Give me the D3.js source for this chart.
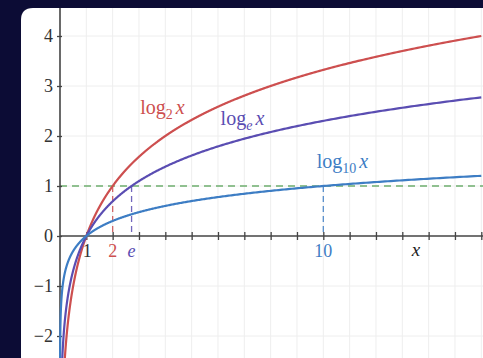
<!DOCTYPE html>
<html>
<head>
<meta charset="utf-8">
<script src="https://cdn.jsdelivr.net/npm/d3@7"></script>
<style>
  html, body { margin: 0; padding: 0; background: #0c0c35; }
  svg { display: block; }
</style>
</head>
<body>
<svg id="chart" width="483" height="358"></svg>
<script>
// Logarithm curves for three bases
const bases = [2, Math.E, 10];
const baseNames = ["2", "e", "10"];
const colors = ["#cd4f4f", "#5a4db2", "#3d7dc4"];
const yTicks = [-2, -1, 0, 1, 2, 3, 4];
const xGridTicks = d3.range(0, 17);
const xLabelValues = [1, 2, Math.E, 10];
const xLabelTexts = ["1", "2", "e", "10"];
const xLabelColors = ["#333", "#cd4f4f", "#5a4db2", "#3d7dc4"];
// where each curve's name is printed (x, y in data units)
const labelX = [3.05, 6.1, 9.75];
const labelY = [2.44, 2.22, 1.36];

const W = 483, H = 358;
const svg = d3.select("#chart");

const x = d3.scaleLinear().domain([0, 16]).range([60, 481.3]);
const y = d3.scaleLinear().domain([-2.44, 4.56]).range([358, 8]);

// white card
svg.append("path")
  .attr("d", `M21,${H} L21,20 Q21,8 33,8 L${W},8 L${W},${H} Z`)
  .attr("fill", "#fff");

svg.append("clipPath").attr("id", "card")
  .append("rect").attr("x", 21).attr("y", 8).attr("width", W - 21).attr("height", H - 8);

const g = svg.append("g").attr("clip-path", "url(#card)");

// grid
g.selectAll("line.vg").data(xGridTicks.filter(d => d > 0)).join("line")
  .attr("x1", d => x(d)).attr("x2", d => x(d))
  .attr("y1", 8).attr("y2", H)
  .attr("stroke", "#eeeeee").attr("stroke-width", 1);
g.selectAll("line.hg").data(yTicks.filter(d => d !== 0)).join("line")
  .attr("x1", x(0)).attr("x2", W)
  .attr("y1", d => y(d)).attr("y2", d => y(d))
  .attr("stroke", "#eeeeee").attr("stroke-width", 1);

// reference line y = 1 and drops to each base
g.append("line")
  .attr("x1", x(0)).attr("x2", W).attr("y1", y(1)).attr("y2", y(1))
  .attr("stroke", "#6fae6f").attr("stroke-width", 1.6).attr("stroke-dasharray", "7,5");
bases.forEach((b, i) => {
  g.append("line")
    .attr("x1", x(b)).attr("x2", x(b)).attr("y1", y(1)).attr("y2", y(0))
    .attr("stroke", colors[i]).attr("stroke-width", 1.3).attr("stroke-dasharray", "6,4")
    .attr("opacity", 0.85);
});

// axes
const xAxis = d3.axisBottom(x).tickValues(xGridTicks.filter(d => d > 0)).tickSize(8).tickFormat("");
g.append("g").attr("transform", `translate(0,${y(0) - 4})`).call(xAxis)
  .call(s => s.select(".domain").remove())
  .call(s => s.selectAll("line").attr("stroke", "#444").attr("stroke-width", 1.3));
g.append("line").attr("x1", x(0)).attr("x2", W).attr("y1", y(0)).attr("y2", y(0))
  .attr("stroke", "#444").attr("stroke-width", 1.6);

const yAxis = d3.axisLeft(y).tickValues(yTicks).tickSize(5).tickFormat("");
g.append("g").attr("transform", `translate(${x(0) + 2},0)`).call(yAxis)
  .call(s => s.select(".domain").remove())
  .call(s => s.selectAll("line").attr("stroke", "#444").attr("stroke-width", 1.3));
g.append("line").attr("x1", x(0)).attr("x2", x(0)).attr("y1", 8).attr("y2", H)
  .attr("stroke", "#444").attr("stroke-width", 1.6);

// curves
const samples = d3.range(0, 1201).map(i => 0.0005 * Math.pow(16 / 0.0005, i / 1200));
bases.forEach((b, i) => {
  const line = d3.line()
    .x(d => x(d))
    .y(d => y(Math.log(d) / Math.log(b)));
  g.append("path").datum(samples.filter(d => Math.log(d) / Math.log(b) > -2.6))
    .attr("d", line).attr("fill", "none")
    .attr("stroke", colors[i]).attr("stroke-width", 2.2);
});

const font = "'Liberation Serif', 'DejaVu Serif', serif";

// y tick labels
g.selectAll("text.yl").data(yTicks).join("text")
  .attr("x", 53).attr("y", d => y(d) + 6)
  .attr("text-anchor", "end")
  .attr("font-family", font).attr("font-size", 18).attr("fill", "#333")
  .text(d => d < 0 ? "\u2212" + Math.abs(d) : d);

// x labels
g.selectAll("text.xl").data(xLabelValues).join("text")
  .attr("x", (d, i) => x(d) + (i === 0 ? 1 : 0)).attr("y", 257)
  .attr("text-anchor", "middle")
  .attr("font-family", font).attr("font-size", 18)
  .attr("font-style", (d, i) => xLabelTexts[i] === "e" ? "italic" : "normal")
  .attr("fill", (d, i) => xLabelColors[i])
  .text((d, i) => xLabelTexts[i]);
g.append("text").attr("x", 416).attr("y", 256).attr("text-anchor", "middle")
  .attr("font-family", font).attr("font-size", 19).attr("font-style", "italic")
  .attr("fill", "#222").text("x");

// curve names
bases.forEach((b, i) => {
  const t = g.append("text")
    .attr("x", x(labelX[i])).attr("y", y(labelY[i]))
    .attr("font-family", font).attr("font-size", 20).attr("fill", colors[i]);
  t.append("tspan").text("log");
  t.append("tspan").attr("font-size", 14).attr("dy", 5)
    .attr("font-style", baseNames[i] === "e" ? "italic" : "normal").text(baseNames[i]);
  t.append("tspan").attr("dy", -5).attr("dx", 3).attr("font-style", "italic").text("x");
});
</script>
</body>
</html>
